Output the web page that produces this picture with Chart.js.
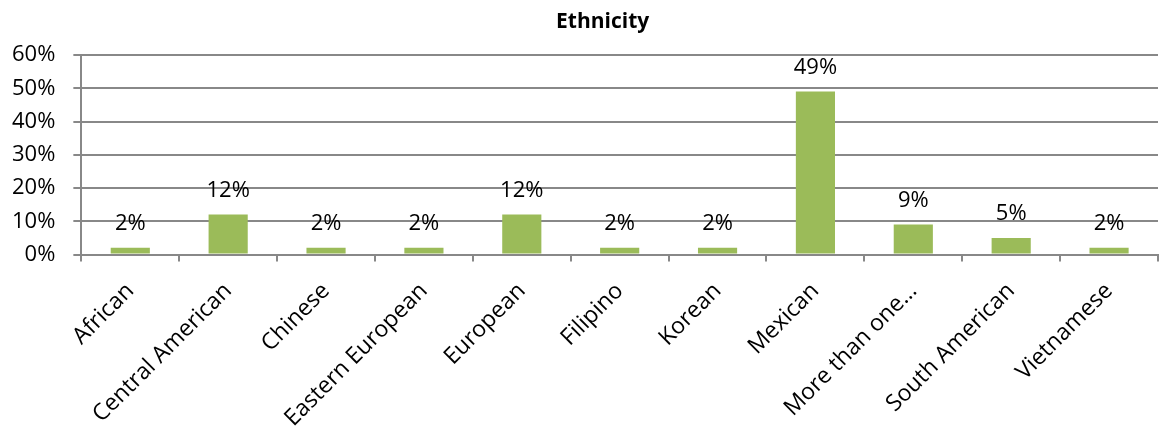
<!DOCTYPE html>
<html>
<head>
<meta charset="utf-8">
<script src="https://cdn.jsdelivr.net/npm/chart.js@4.4.1/dist/chart.umd.min.js"></script>
<style>
    html, body { margin: 0; padding: 0; background: #ffffff; }
    #wrap { width: 1159px; height: 434px; }
</style>
</head>
<body>
<div id="wrap"><canvas id="ethnicityChart"></canvas></div>
<script>
// Chart data
const categories = ['African', 'Central American', 'Chinese', 'Eastern European', 'European',
    'Filipino', 'Korean', 'Mexican', 'More than one…', 'South American', 'Vietnamese'];
const shares = [2, 12, 2, 2, 12, 2, 2, 49, 9, 5, 2];
const yTicks = [0, 10, 20, 30, 40, 50, 60];
const chartTitle = 'Ethnicity';

const FONT = '"Open Sans", "Noto Sans", sans-serif';

// Draws the value above each bar
const valueLabels = {
    id: 'valueLabels',
    afterDatasetsDraw(chart) {
        const ctx = chart.ctx;
        const meta = chart.getDatasetMeta(0);
        ctx.save();
        ctx.font = '22px ' + FONT;
        ctx.fillStyle = '#000000';
        ctx.textAlign = 'center';
        ctx.textBaseline = 'bottom';
        meta.data.forEach((bar, i) => {
            ctx.fillText(shares[i] + '%', bar.x, bar.y - 13);
        });
        ctx.restore();
    }
};

// Title sits a bit right of the canvas centre, like the original
const titleText = {
    id: 'titleText',
    afterDraw(chart) {
        const ctx = chart.ctx;
        ctx.save();
        ctx.font = 'bold 21px ' + FONT;
        ctx.fillStyle = '#000000';
        ctx.textAlign = 'center';
        ctx.textBaseline = 'middle';
        ctx.fillText(chartTitle, chart.width * 0.52, 22);
        ctx.restore();
    }
};

const ctx = document.getElementById('ethnicityChart').getContext('2d');
new Chart(ctx, {
    type: 'bar',
    data: {
        labels: categories,
        datasets: [{
            data: shares,
            backgroundColor: '#9BBB59',
            borderWidth: 0,
            categoryPercentage: 1.0,
            barPercentage: 0.4
        }]
    },
    options: {
        responsive: true,
        maintainAspectRatio: false,
        animation: false,
        layout: { padding: { left: -6, right: 1, top: 55, bottom: 0 } },
        plugins: {
            legend: { display: false },
            tooltip: { enabled: false },
            title: { display: false }
        },
        scales: {
            x: {
                afterFit(scale) {
                    // labels may run a little into the bottom margin
                    scale.height -= 10;
                },
                grid: {
                    display: true,
                    drawOnChartArea: false,
                    drawTicks: true,
                    offset: true,
                    tickLength: 7,
                    color: '#888888',
                    lineWidth: 2
                },
                border: { color: '#888888', width: 2 },
                ticks: {
                    color: '#000000',
                    font: { family: FONT, size: 23 },
                    minRotation: 45,
                    maxRotation: 45,
                    autoSkip: false,
                    padding: 16
                }
            },
            y: {
                min: 0,
                max: 60,
                afterBuildTicks(scale) {
                    scale.ticks = yTicks.map(v => ({ value: v }));
                },
                grid: {
                    color: '#888888',
                    lineWidth: 2,
                    tickLength: 8
                },
                border: { color: '#888888', width: 2 },
                ticks: {
                    color: '#000000',
                    font: { family: FONT, size: 22 },
                    padding: 18,
                    callback: v => v + '%'
                }
            }
        }
    },
    plugins: [valueLabels, titleText]
});
</script>
</body>
</html>
